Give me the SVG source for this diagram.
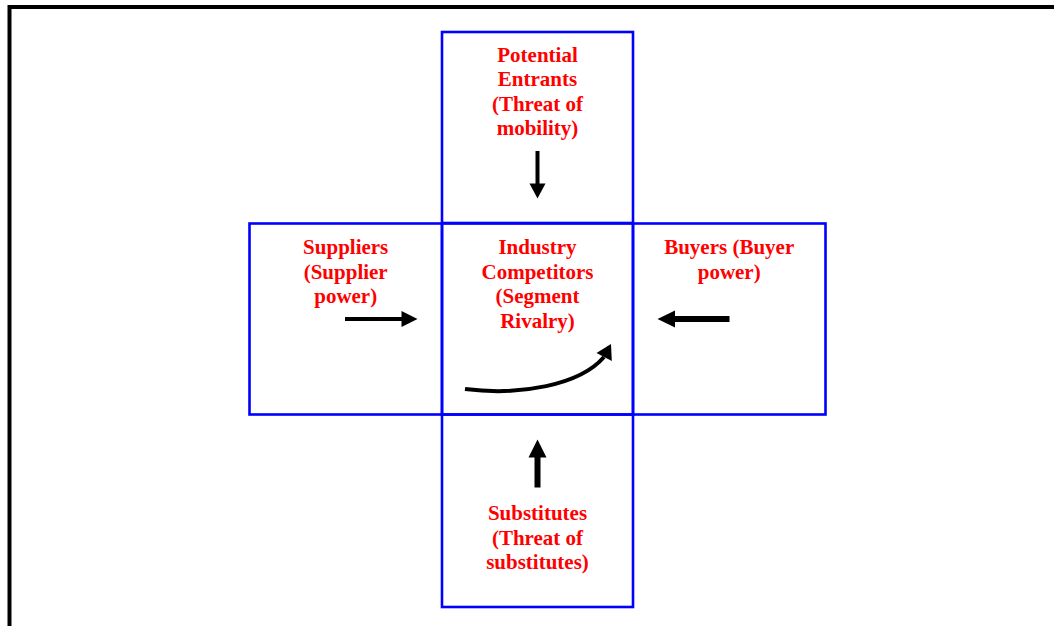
<svg xmlns="http://www.w3.org/2000/svg" width="1054" height="626" viewBox="0 0 1054 626">
  <style>
    .box { fill: none; stroke: #0000ff; stroke-width: 2.6; }
    .lbl { font-family: "Liberation Serif", "Times New Roman", serif; font-weight: bold; font-size: 21px; fill: #ff0000; text-anchor: middle; }
    .shaft { stroke: #000; fill: none; stroke-linecap: butt; }
    .head { fill: #000; stroke: none; }
  </style>
  <rect x="0" y="0" width="1054" height="626" fill="#fff"/>
  <!-- outer frame, runs past the right and bottom edges -->
  <rect x="9.5" y="7" width="1060" height="640" fill="none" stroke="#000" stroke-width="4"/>

  <g id="entrants">
    <rect class="box" x="442" y="32" width="191" height="191"/>
    <text class="lbl" x="537.5" y="61.5">Potential</text>
    <text class="lbl" x="537.5" y="86">Entrants</text>
    <text class="lbl" x="537.5" y="110.5">(Threat of</text>
    <text class="lbl" x="537.5" y="135">mobility)</text>
  </g>

  <g id="suppliers">
    <rect class="box" x="249.5" y="223.5" width="192.5" height="191"/>
    <text class="lbl" x="345.7" y="254">Suppliers</text>
    <text class="lbl" x="345.7" y="278.5">(Supplier</text>
    <text class="lbl" x="345.7" y="303">power)</text>
  </g>

  <g id="competitors">
    <rect class="box" x="442" y="223.5" width="191" height="191"/>
    <text class="lbl" x="537.5" y="254">Industry</text>
    <text class="lbl" x="537.5" y="278.5">Competitors</text>
    <text class="lbl" x="537.5" y="303">(Segment</text>
    <text class="lbl" x="537.5" y="327.5">Rivalry)</text>
  </g>

  <g id="buyers">
    <rect class="box" x="633" y="223.5" width="192.5" height="191"/>
    <text class="lbl" x="729.2" y="254">Buyers (Buyer</text>
    <text class="lbl" x="729.2" y="279">power)</text>
  </g>

  <g id="substitutes">
    <rect class="box" x="442" y="414.5" width="191" height="192.5"/>
    <text class="lbl" x="537.5" y="520">Substitutes</text>
    <text class="lbl" x="537.5" y="544.5">(Threat of</text>
    <text class="lbl" x="537.5" y="569">substitutes)</text>
  </g>

  <g id="connectors">
    <!-- entrants down -->
    <line class="shaft" x1="537.5" y1="151" x2="537.5" y2="184" stroke-width="4"/>
    <polygon class="head" points="529.5,183.5 545.5,183.5 537.5,198.5"/>
    <!-- suppliers right -->
    <line class="shaft" x1="345" y1="319" x2="402" y2="319" stroke-width="3.8"/>
    <polygon class="head" points="401.5,311 401.5,327 417.5,319"/>
    <!-- buyers left -->
    <line class="shaft" x1="729.5" y1="319" x2="674" y2="319" stroke-width="6"/>
    <polygon class="head" points="675,310.5 675,327.5 657.5,319"/>
    <!-- substitutes up -->
    <line class="shaft" x1="537.5" y1="487.5" x2="537.5" y2="456" stroke-width="6"/>
    <polygon class="head" points="528.5,457.5 546.5,457.5 537.5,439.5"/>
    <!-- rivalry curve -->
    <path class="shaft" d="M465,389 C520,396 580,385 604,357" stroke-width="4"/>
    <polygon class="head" points="596.5,353 611.8,361 611,344"/>
  </g>
</svg>
